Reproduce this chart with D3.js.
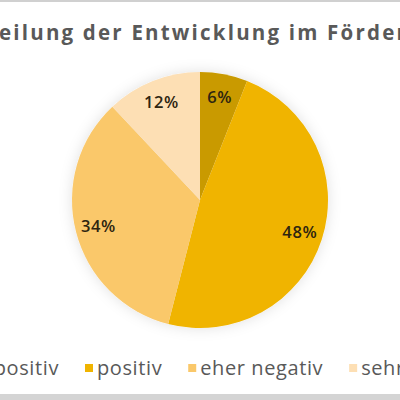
<!DOCTYPE html>
<html>
<head>
<meta charset="utf-8">
<script src="https://cdn.jsdelivr.net/npm/d3@7"></script>
<style>
  body { margin: 0; background: #fff; }
  svg { display: block; font-family: "Open Sans", "DejaVu Sans", sans-serif; }
</style>
</head>
<body>
<div id="chart"></div>
<script>
// chart values
const categories = ["sehr positiv", "positiv", "eher negativ", "sehr negativ"];
const shares = [6, 48, 34, 12];
const colours = ["#C99A05", "#F0B400", "#FAC86A", "#FDDFB4"];
const title = "Beurteilung der Entwicklung im Fördergebiet";

const outerWidth = 400, outerHeight = 400;
const centre = {x: 200, y: 200};
const radius = 128;

const svg = d3.select("#chart").append("svg")
    .attr("width", outerWidth)
    .attr("height", outerHeight);

const defs = svg.append("defs");
defs.append("filter").attr("id", "shadow")
    .attr("x", "-30%").attr("y", "-30%").attr("width", "160%").attr("height", "160%")
  .append("feDropShadow")
    .attr("dx", 0).attr("dy", 0).attr("stdDeviation", 7)
    .attr("flood-color", "#000").attr("flood-opacity", 0.12);

// frame of the cropped screenshot
svg.append("rect").attr("x", 0).attr("y", 0).attr("width", 400).attr("height", 2).attr("fill", "#d0d0d0");
svg.append("rect").attr("x", 0).attr("y", 394).attr("width", 400).attr("height", 6).attr("fill", "#d4d4d4");

const titleText = svg.append("text")
    .attr("y", 40)
    .attr("font-size", 20.5)
    .attr("font-weight", "bold")
    .attr("letter-spacing", 2.2)
    .attr("fill", "#595959")
    .text(title);
// the screenshot is cropped so that "eilung" starts at the left edge
titleText.attr("x", -titleText.node().getSubStringLength(0, 5) - 1);

const data = categories.map((c, i) => ({name: c, value: shares[i]}));

const pie = d3.pie().value(d => d.value).sort(null);
const arc = d3.arc().innerRadius(0).outerRadius(radius);
const labelArc = d3.arc().innerRadius(radius * 0.82).outerRadius(radius * 0.82);
const colour = d3.scaleOrdinal().domain(categories).range(colours);

const g = svg.append("g").attr("transform", `translate(${centre.x},${centre.y})`);

g.append("g")
    .attr("filter", "url(#shadow)")
  .selectAll("path")
    .data(pie(data))
    .join("path")
    .attr("d", arc)
    .attr("fill", d => colour(d.data.name));

g.selectAll("text")
    .data(pie(data))
    .join("text")
    .attr("transform", d => `translate(${labelArc.centroid(d)})`)
    .attr("text-anchor", "middle")
    .attr("dy", "0.35em")
    .attr("font-size", 16.5)
    .attr("font-weight", 600)
    .attr("letter-spacing", 0.6)
    .attr("fill", "#2e2510")
    .text(d => d.data.value + "%");

// legend, laid out one entry after the other
const legend = svg.append("g").attr("transform", "translate(0,368)");
const item = legend.selectAll("g")
    .data(categories)
    .join("g");

item.append("rect")
    .attr("x", 0).attr("y", -4)
    .attr("width", 8).attr("height", 8)
    .attr("fill", d => colour(d));

item.append("text")
    .attr("x", 12)
    .attr("dy", "0.35em")
    .attr("font-size", 20)
    .attr("letter-spacing", 0.6)
    .attr("fill", "#595959")
    .text(d => d);

const gap = 26;
const widths = item.nodes().map(n => 12 + n.querySelector("text").getComputedTextLength());
// the second entry ("positiv") sits at x = 85
let x = 85 - widths[0] - gap;
item.each(function(d, i) {
    d3.select(this).attr("transform", `translate(${x},0)`);
    x += widths[i] + gap;
});
</script>
</body>
</html>
